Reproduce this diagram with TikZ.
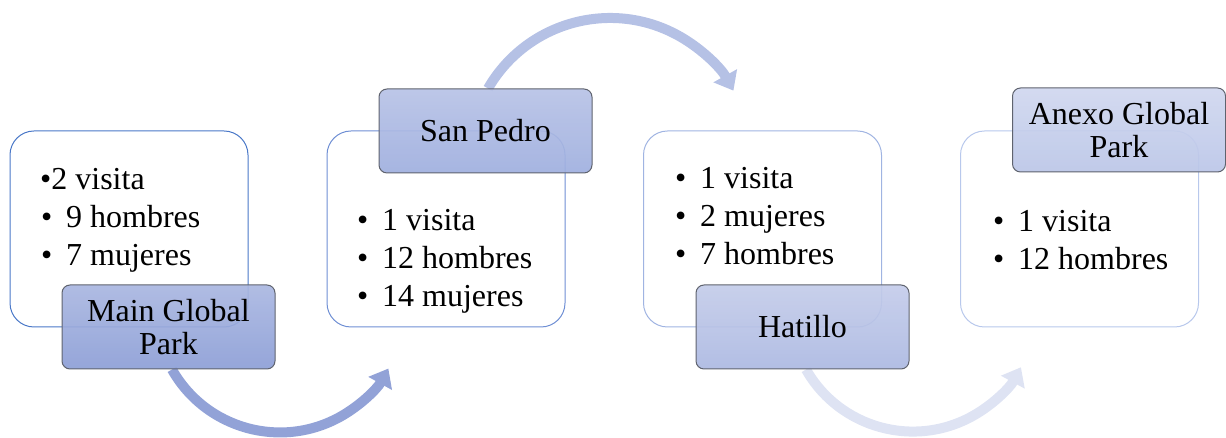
\documentclass[tikz,border=0pt]{standalone}
\usepackage{fontspec}
\setmainfont{Liberation Serif}
\usetikzlibrary{arrows.meta,backgrounds}
\definecolor{bA}{HTML}{4A78C8}
\definecolor{bB}{HTML}{6F8FD4}
\definecolor{bC}{HTML}{A0B4E2}
\definecolor{bD}{HTML}{B8C8EC}
\definecolor{labdraw}{HTML}{5F636E}
\definecolor{lAt}{HTML}{AAB7E1}
\definecolor{lAb}{HTML}{8C9ED6}
\definecolor{lBt}{HTML}{B7C2E6}
\definecolor{lBb}{HTML}{9FAFDF}
\definecolor{lCt}{HTML}{C4CCEA}
\definecolor{lCb}{HTML}{ACB9E2}
\definecolor{lDt}{HTML}{D0D7EF}
\definecolor{lDb}{HTML}{BBC6E8}
\definecolor{aA}{HTML}{92A2D7}
\definecolor{aB}{HTML}{B5C1E5}
\definecolor{aC}{HTML}{DEE3F3}
\newcommand\itm{\makebox[25pt][l]{•}}
\begin{document}
\begin{tikzpicture}[x=1pt,y=1pt,
 box/.style={draw=#1, line width=1pt, rounded corners=24pt, minimum width=238pt, minimum height=196pt, fill=white, inner sep=0pt},
 lab/.style 2 args={draw=labdraw, line width=1pt, rounded corners=8pt, minimum width=213pt, minimum height=84pt, top color=#1, bottom color=#2, fill opacity=0.92, text opacity=1, align=center, inner sep=0pt, font=\fontsize{32}{33}\selectfont},
 items/.style={anchor=west, align=left, inner sep=0pt, font=\fontsize{32}{38}\selectfont},
 flow/.style={line width=10pt, draw=#1, -{Triangle[width=26pt,length=17pt]}}]
\useasboundingbox (0,0) rectangle (1226,438);
% boxes
\node[box=bA] (B1) at (129,209) {};
\node[box=bB] (B2) at (446,209) {};
\node[box=bC] (B3) at (762.5,209) {};
\node[box=bD] (B4) at (1079.5,209) {};
% label nodes
\node[lab={lAt}{lAb}] (L1) at (168.5,111) {Main Global\\Park};
\node[lab={lBt}{lBb}] (L2) at (485.5,307) {San Pedro};
\node[lab={lCt}{lCb}] (L3) at (802.5,111) {Hatillo};
\node[lab={lDt}{lDb}] (L4) at (1119,308) {Anexo Global\\Park};
% items
\node[items] (t1) at (40,218) {•2 visita\\\hspace*{1pt}\itm 9 hombres\\\hspace*{1pt}\itm 7 mujeres};
\node[items] (t2) at (357,177) {\itm 1 visita\\\itm 12 hombres\\\itm 14 mujeres};
\node[items] (t3) at (675,222) {\itm 1 visita\\\itm 2 mujeres\\\itm 7 hombres};
\node[items] (t4) at (993,198) {\itm 1 visita\\\itm 12 hombres};
% arrows, behind everything
\begin{scope}[on background layer]
\draw[flow=aA] (L1.south) ++(3.5,0) arc[start angle=209.5, end angle=331, radius=124pt];
\draw[flow=aB] (L2.north) ++(2.5,0) arc[start angle=150, end angle=29, radius=141pt];
\draw[flow=aC] (L3.south) ++(3.5,0) arc[start angle=209.7, end angle=331.5, radius=123pt];
\end{scope}
\end{tikzpicture}
\end{document}
